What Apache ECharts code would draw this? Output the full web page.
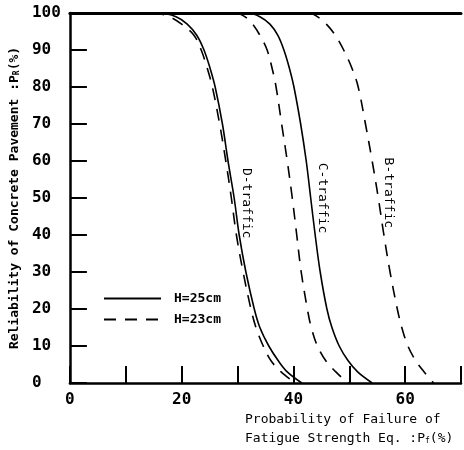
<!DOCTYPE html>
<html>
<head>
<meta charset="utf-8">
<script src="https://cdn.jsdelivr.net/npm/echarts@6/dist/echarts.min.js"></script>
<style>
  html, body { margin: 0; padding: 0; background: #fff; }
  #main { width: 464px; height: 450px; }
</style>
</head>
<body>
<div id="main"></div>
<script>
// D-traffic
var dSolidX = [12, 16, 19.0, 21.0, 22.7, 24.0, 25.1, 26.0, 27.3, 28.3, 29.4, 30.3, 31.5, 33.0, 34.0, 35.6, 37.3, 38.9, 41.5];
var dSolidY = [100, 100, 99, 97, 94, 90, 85, 80, 70, 60, 50, 40, 30, 20, 15, 10, 6, 3, 0];
var dDashX = [11, 15, 17.8, 20.0, 22.2, 23.5, 24.6, 25.5, 26.8, 27.9, 28.9, 29.8, 31.0, 32.4, 33.3, 34.6, 36.0, 37.8, 40.3];
var dDashY = [100, 100, 99, 97, 94, 90, 85, 80, 70, 60, 50, 40, 30, 20, 15, 10, 6, 3, 0];
// C-traffic
var cSolidX = [28, 32.0, 34.0, 35.8, 37.2, 38.3, 39.3, 40.1, 41.3, 42.3, 43.1, 43.9, 44.8, 46.0, 46.9, 48.2, 49.8, 51.5, 54.1];
var cSolidY = [100, 100, 99, 97, 94, 90, 85, 80, 70, 60, 50, 40, 30, 20, 15, 10, 6, 3, 0];
var cDashX = [26, 29.7, 31.3, 32.7, 34.0, 35.3, 36.2, 36.9, 37.9, 38.9, 39.8, 40.6, 41.4, 42.5, 43.2, 44.3, 45.8, 47.6, 49.0, 49.9];
var cDashY = [100, 100, 99, 97, 94, 90, 85, 80, 70, 60, 50, 40, 30, 20, 15, 10, 6, 3, 1, 0];
// B-traffic
var bDashX = [39, 42.9, 44.3, 45.9, 47.5, 49.0, 50.5, 51.6, 52.9, 54.1, 55.2, 56.2, 57.3, 58.6, 59.4, 60.5, 61.9, 63.4, 65.1];
var bDashY = [100, 100, 99, 97, 94, 90, 85, 80, 70, 60, 50, 40, 30, 20, 15, 10, 6, 3, 0];

var legendNames = ['H=25cm', 'H=23cm'];
var curveLabels = ['D-traffic', 'C-traffic', 'B-traffic'];
var labelPos = [[31.6, 48.6], [45.1, 50], [57.0, 51.4]];

var mono = '"DejaVu Sans Mono", "Liberation Mono", monospace';

function pairs(xs, ys) {
	var out = [];
	for (var i = 0; i < xs.length; i++) out.push([xs[i], ys[i]]);
	return out;
}

function curve(name, xs, ys, dashed, labelIdx) {
	var s = {
		name: name,
		type: 'line',
		data: pairs(xs, ys),
		symbol: 'none',
		smooth: 0.35,
		lineStyle: { color: '#000', width: 1.6, type: dashed ? [12, 9] : 'solid' },
		itemStyle: { color: '#000' },
		z: 3
	};
	if (labelIdx != null) {
		s.markPoint = {
			symbol: 'rect',
			symbolSize: 1,
			itemStyle: { color: 'transparent' },
			label: {
				show: true,
				position: 'inside',
				rotate: -90,
				color: '#000',
				fontFamily: mono,
				fontSize: 13,
				formatter: curveLabels[labelIdx]
			},
			data: [{ coord: labelPos[labelIdx] }]
		};
	}
	return s;
}

var chart = echarts.init(document.getElementById('main'));

var option = {
	animation: false,
	backgroundColor: '#fff',
	grid: { left: 67, right: -4, top: 13, bottom: 67 },
	legend: {
		data: legendNames,
		orient: 'vertical',
		left: 98,
		top: 287,
		itemWidth: 57,
		itemHeight: 14,
		itemGap: 8,
		selectedMode: false,
		itemStyle: { opacity: 0, borderWidth: 0 },
		textStyle: { color: '#000', fontFamily: mono, fontSize: 13, fontWeight: 'bold', padding: [0, 0, 0, 8] }
	},
	xAxis: [{
		type: 'value',
		min: 0,
		max: 70,
		interval: 10,
		axisLine: { lineStyle: { color: '#000', width: 2.5 } },
		axisTick: { inside: true, length: 17, lineStyle: { color: '#000', width: 2 } },
		axisLabel: {
			color: '#000', fontFamily: mono, fontSize: 16, fontWeight: 'bold', margin: 9,
			formatter: function (v) { return v % 20 === 0 && v < 70 ? String(v) : ''; }
		},
		splitLine: { show: false }
	}, {
		type: 'value',
		position: 'top',
		min: 0,
		max: 70,
		axisLine: { show: true, lineStyle: { color: '#000', width: 3 } },
		axisTick: { show: false },
		axisLabel: { show: false },
		splitLine: { show: false }
	}],
	yAxis: {
		type: 'value',
		min: 0,
		max: 100,
		interval: 10,
		axisLine: { show: true, lineStyle: { color: '#000', width: 2.5 } },
		axisTick: { show: true, inside: true, length: 17, lineStyle: { color: '#000', width: 2 } },
		axisLabel: { color: '#000', fontFamily: mono, fontSize: 16, fontWeight: 'bold', align: 'left', margin: 38 },
		splitLine: { show: false },
		name: 'Reliability of Concrete Pavement :P{s|R}(%)',
		nameLocation: 'middle',
		nameGap: 45,
		nameTextStyle: {
			color: '#000', fontFamily: mono, fontSize: 13, fontWeight: 'bold',
			rich: { s: { fontFamily: mono, fontSize: 8, fontWeight: 'bold', color: '#000', padding: [5, 0, 0, 0] } }
		}
	},
	graphic: [{
		type: 'text',
		left: 245,
		top: 410,
		style: {
			text: 'Probability of Failure of\nFatigue Strength Eq. :P{s|f}(%)',
			font: '13px ' + mono,
			fill: '#000',
			lineHeight: 19,
			rich: { s: { fontFamily: mono, fontSize: 8, fill: '#000', padding: [5, 0, 0, 0] } }
		}
	}],
	series: [
		curve('H=25cm', dSolidX, dSolidY, false, 0),
		curve('H=23cm', dDashX, dDashY, true, null),
		curve('H=25cm', cSolidX, cSolidY, false, 1),
		curve('H=23cm', cDashX, cDashY, true, null),
		curve('H=23cm', bDashX, bDashY, true, 2)
	]
};

chart.setOption(option);
</script>
</body>
</html>
